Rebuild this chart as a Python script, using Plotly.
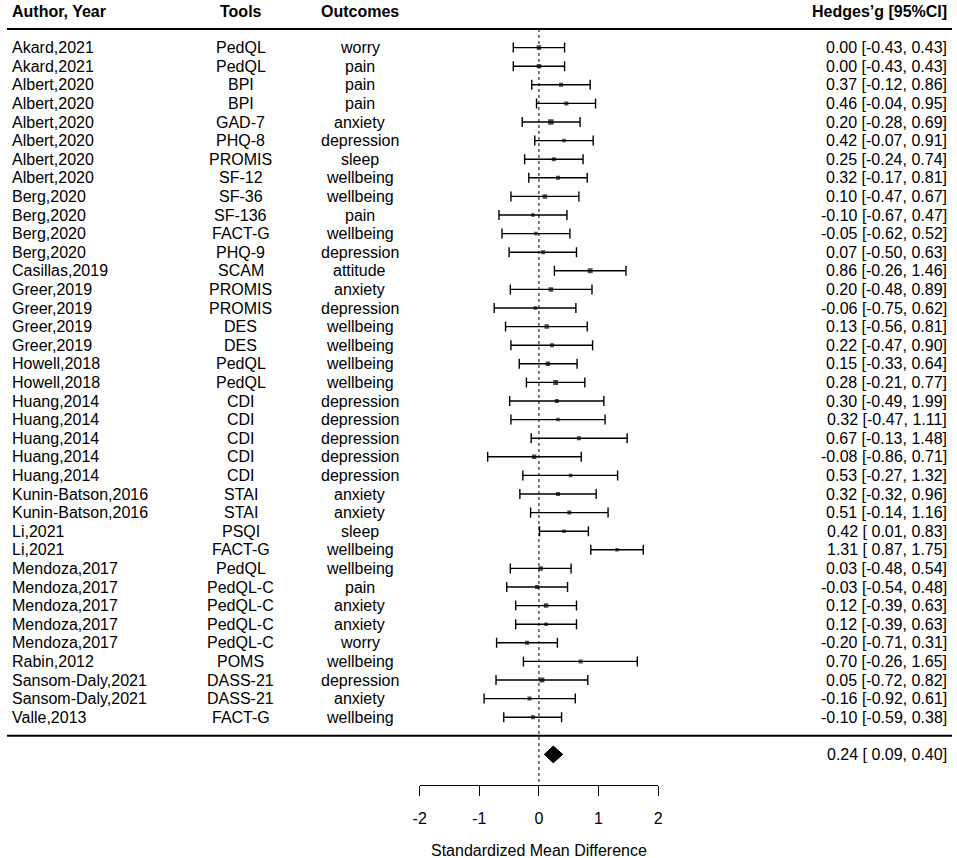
import plotly.graph_objects as go

# ---------------- data ----------------
authors = ["Akard,2021", "Akard,2021", "Albert,2020", "Albert,2020", "Albert,2020",
           "Albert,2020", "Albert,2020", "Albert,2020", "Berg,2020", "Berg,2020",
           "Berg,2020", "Berg,2020", "Casillas,2019", "Greer,2019", "Greer,2019",
           "Greer,2019", "Greer,2019", "Howell,2018", "Howell,2018", "Huang,2014",
           "Huang,2014", "Huang,2014", "Huang,2014", "Huang,2014", "Kunin-Batson,2016",
           "Kunin-Batson,2016", "Li,2021", "Li,2021", "Mendoza,2017", "Mendoza,2017",
           "Mendoza,2017", "Mendoza,2017", "Mendoza,2017", "Rabin,2012",
           "Sansom-Daly,2021", "Sansom-Daly,2021", "Valle,2013"]
tools = ["PedQL", "PedQL", "BPI", "BPI", "GAD-7", "PHQ-8", "PROMIS", "SF-12",
         "SF-36", "SF-136", "FACT-G", "PHQ-9", "SCAM", "PROMIS", "PROMIS", "DES",
         "DES", "PedQL", "PedQL", "CDI", "CDI", "CDI", "CDI", "CDI", "STAI", "STAI",
         "PSQI", "FACT-G", "PedQL", "PedQL-C", "PedQL-C", "PedQL-C", "PedQL-C",
         "POMS", "DASS-21", "DASS-21", "FACT-G"]
outcomes = ["worry", "pain", "pain", "pain", "anxiety", "depression", "sleep",
            "wellbeing", "wellbeing", "pain", "wellbeing", "depression", "attitude",
            "anxiety", "depression", "wellbeing", "wellbeing", "wellbeing",
            "wellbeing", "depression", "depression", "depression", "depression",
            "depression", "anxiety", "anxiety", "sleep", "wellbeing", "wellbeing",
            "pain", "anxiety", "anxiety", "worry", "wellbeing", "depression",
            "anxiety", "wellbeing"]
est = [0.00, 0.00, 0.37, 0.46, 0.20, 0.42, 0.25, 0.32, 0.10, -0.10, -0.05, 0.07,
       0.86, 0.20, -0.06, 0.13, 0.22, 0.15, 0.28, 0.30, 0.32, 0.67, -0.08, 0.53,
       0.32, 0.51, 0.42, 1.31, 0.03, -0.03, 0.12, 0.12, -0.20, 0.70, 0.05, -0.16,
       -0.10]
ci_low = [-0.43, -0.43, -0.12, -0.04, -0.28, -0.07, -0.24, -0.17, -0.47, -0.67,
          -0.62, -0.50, 0.26, -0.48, -0.75, -0.56, -0.47, -0.33, -0.21, -0.49,
          -0.47, -0.13, -0.86, -0.27, -0.32, -0.14, 0.01, 0.87, -0.48, -0.54,
          -0.39, -0.39, -0.71, -0.26, -0.72, -0.92, -0.59]
ci_high = [0.43, 0.43, 0.86, 0.95, 0.69, 0.91, 0.74, 0.81, 0.67, 0.47, 0.52, 0.63,
           1.46, 0.89, 0.62, 0.81, 0.90, 0.64, 0.77, 1.09, 1.11, 1.48, 0.71, 1.32,
           0.96, 1.16, 0.83, 1.75, 0.54, 0.48, 0.63, 0.63, 0.31, 1.65, 0.82, 0.61,
           0.38]
ci_labels = ["0.00 [-0.43, 0.43]", "0.00 [-0.43, 0.43]", "0.37 [-0.12, 0.86]",
             "0.46 [-0.04, 0.95]", "0.20 [-0.28, 0.69]", "0.42 [-0.07, 0.91]",
             "0.25 [-0.24, 0.74]", "0.32 [-0.17, 0.81]", "0.10 [-0.47, 0.67]",
             "-0.10 [-0.67, 0.47]", "-0.05 [-0.62, 0.52]", "0.07 [-0.50, 0.63]",
             "0.86 [-0.26, 1.46]", "0.20 [-0.48, 0.89]", "-0.06 [-0.75, 0.62]",
             "0.13 [-0.56, 0.81]", "0.22 [-0.47, 0.90]", "0.15 [-0.33, 0.64]",
             "0.28 [-0.21, 0.77]", "0.30 [-0.49, 1.99]", "0.32 [-0.47, 1.11]",
             "0.67 [-0.13, 1.48]", "-0.08 [-0.86, 0.71]", "0.53 [-0.27, 1.32]",
             "0.32 [-0.32, 0.96]", "0.51 [-0.14, 1.16]", "0.42 [ 0.01, 0.83]",
             "1.31 [ 0.87, 1.75]", "0.03 [-0.48, 0.54]", "-0.03 [-0.54, 0.48]",
             "0.12 [-0.39, 0.63]", "0.12 [-0.39, 0.63]", "-0.20 [-0.71, 0.31]",
             "0.70 [-0.26, 1.65]", "0.05 [-0.72, 0.82]", "-0.16 [-0.92, 0.61]",
             "-0.10 [-0.59, 0.38]"]
summary_est = 0.24
summary_low = 0.09
summary_high = 0.40
summary_label = "0.24 [ 0.09, 0.40]"
tick_values = [-2, -1, 0, 1, 2]
tick_labels = ["-2", "-1", "0", "1", "2"]
headers = ["Author, Year", "Tools", "Outcomes", "Hedges\u2019g [95%CI]"]
x_title = "Standardized Mean Difference"

# ---------------- style ----------------
marker_px = [4.5, 4.5, 4, 4, 5.5, 3.5, 4, 4, 4.5, 3.5, 3.5, 4, 5, 4.5, 3.5, 4.5, 4,
             4.5, 5, 4, 3.5, 4, 4.5, 3.5, 4, 4, 3.5, 3.5, 4.5, 4, 4.5, 3.5, 4, 4,
             5, 4, 4]
W, H = 957, 858
FONT = "Liberation Sans, Arial, Helvetica, sans-serif"
FS = 16
ROW0_PX = 47.6
ROW_PX = 18.6
rows = list(range(len(authors)))
summary_row = len(authors) + 1
sep_row = len(authors)
header_row = -1.93
header_line_row = -1
axis_px = 785
y_top = -ROW0_PX / ROW_PX
y_bot = (H - ROW0_PX) / ROW_PX
axis_row = (axis_px - ROW0_PX) / ROW_PX

# the page is shown slightly narrowed (x_shown = 0.9836 * x + 7.9); place by target px
SX, OX = 0.9836, 7.9
def fx(px):
    return min(max((px - OX) / SX / W, 0.0), 1.0)

fig = go.Figure()

fig.add_trace(go.Scatter(
    x=est, y=rows, mode="markers",
    marker=dict(symbol="square", size=marker_px, color="black", line=dict(width=0)),
    error_x=dict(type="data", symmetric=False,
                 array=[h - e for h, e in zip(ci_high, est)],
                 arrayminus=[e - l for e, l in zip(est, ci_low)],
                 color="black", thickness=1.4, width=5),
    showlegend=False, hoverinfo="skip"))

dh = 0.45
fig.add_trace(go.Scatter(
    x=[summary_low, summary_est, summary_high, summary_est, summary_low],
    y=[summary_row, summary_row - dh, summary_row, summary_row + dh, summary_row],
    mode="lines", fill="toself", fillcolor="black",
    line=dict(color="black", width=1), showlegend=False, hoverinfo="skip"))

ann = []
def txt(x, y, s, anchor, bold=False):
    ann.append(dict(xref="paper", yref="y", x=fx(x), y=y,
                    text=("<b>%s</b>" % s) if bold else s,
                    xanchor=anchor, align=anchor, yanchor="middle", showarrow=False,
                    borderpad=0, font=dict(family=FONT, size=FS, color="black")))

txt(11.5, header_row, headers[0], "left", True)
txt(240.5, header_row, headers[1], "center", True)
txt(359.5, header_row, headers[2], "center", True)
txt(945, header_row, headers[3], "right", True)
for i in rows:
    txt(12, i, authors[i], "left")
    txt(240.5, i, tools[i], "center")
    txt(359.5, i, outcomes[i], "center")
    txt(945, i, ci_labels[i], "right")
txt(945, summary_row, summary_label, "right")
ann.append(dict(xref="x", yref="paper", x=0, y=1 - 850 / H, text=x_title,
                xanchor="center", yanchor="middle", showarrow=False,
                font=dict(family=FONT, size=FS, color="black")))

shapes = [
    dict(type="line", xref="paper", yref="y", x0=fx(3), x1=fx(955),
         y0=header_line_row, y1=header_line_row, line=dict(color="black", width=2)),
    dict(type="line", xref="paper", yref="y", x0=fx(3), x1=fx(955),
         y0=sep_row, y1=sep_row, line=dict(color="black", width=2)),
    dict(type="line", xref="x", yref="y", x0=0, x1=0, y0=header_line_row, y1=axis_row,
         line=dict(color="black", width=1, dash="dot"), layer="below"),
]

fig.update_layout(
    width=W, height=H, autosize=False, margin=dict(l=0, r=0, t=0, b=0),
    paper_bgcolor="white", plot_bgcolor="white",
    font=dict(family=FONT, size=FS, color="black"),
    annotations=ann, shapes=shapes,
    xaxis=dict(domain=[fx(419), fx(656.5)], range=[-2, 2],
               anchor="free", position=1 - axis_px / H,
               showline=True, linecolor="black", linewidth=1.3,
               ticks="outside", ticklen=10, tickwidth=1.3, tickcolor="black",
               tickvals=tick_values, ticktext=tick_labels,
               tickfont=dict(family=FONT, size=FS, color="black"),
               ticklabelstandoff=9,
               showgrid=False, zeroline=False, fixedrange=True),
    yaxis=dict(domain=[0, 1], range=[y_bot, y_top], visible=False,
               showgrid=False, zeroline=False, fixedrange=True),
)

post = ("document.documentElement.style.margin='0';document.body.style.margin='0';"
        "document.documentElement.style.overflow='hidden';document.body.style.overflow='hidden';")
fig.write_html("out.html", config={"displayModeBar": False}, post_script=post)
